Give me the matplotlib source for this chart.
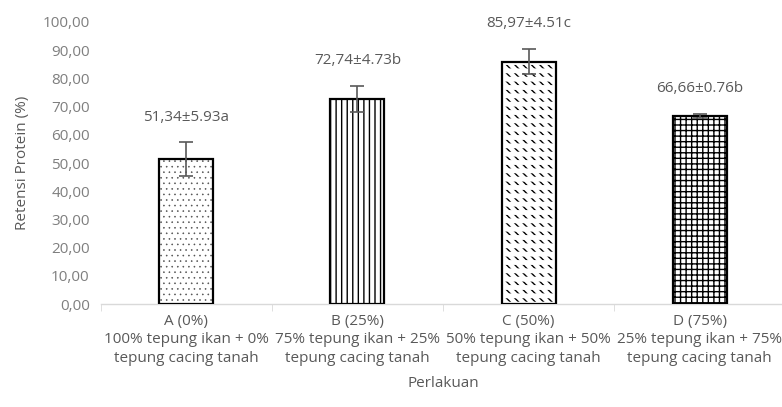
import numpy as np
import matplotlib
matplotlib.use('Agg')
import matplotlib.pyplot as plt

plt.rcParams['font.family'] = ['Open Sans', 'DejaVu Sans']
plt.rcParams['hatch.linewidth'] = 1.0

# data
kode = ['A (0%)', 'B (25%)', 'C (50%)', 'D (75%)']
komposisi = ['100% tepung ikan + 0%\ntepung cacing tanah',
             '75% tepung ikan + 25%\ntepung cacing tanah',
             '50% tepung ikan + 50%\ntepung cacing tanah',
             '25% tepung ikan + 75%\ntepung cacing tanah']
retensi = np.array([51.34, 72.74, 85.97, 66.66])
sd = np.array([5.93, 4.73, 4.51, 0.76])
notasi = ['a', 'b', 'c', 'b']
pola = ['...', '|||', '\\\\\\\\', '+++']
warna_pola = ['#505050', 'black', 'black', 'black']
tebal_pola = [0.4, 1.0, 1.0, 1.0]

abu = '#595959'
fs = 11
fig = plt.figure(figsize=(7.82, 4.07), dpi=100)
ax = fig.add_axes([0.129, 0.253, 0.875, 0.693])

x = np.arange(len(kode))
lebar = 0.316
for i in range(len(kode)):
    b = ax.bar(x[i], retensi[i], lebar, color='white', edgecolor=warna_pola[i],
               hatch=pola[i], linewidth=0, zorder=2)
    for p in b:
        if hasattr(p, 'set_hatch_linewidth'):
            p.set_hatch_linewidth(tebal_pola[i])
    if i == 2:
        # potong garis diagonal jadi putus-putus
        b = ax.bar(x[i], retensi[i], lebar, color='none', edgecolor='white',
                   hatch='--', linewidth=0, zorder=3)
        for p in b:
            if hasattr(p, 'set_hatch_linewidth'):
                p.set_hatch_linewidth(3.5)
    ax.bar(x[i], retensi[i], lebar, color='none', edgecolor='black',
           linewidth=1.6, zorder=4)

ax.errorbar(x, retensi, yerr=sd, fmt='none', ecolor=abu, elinewidth=1.2,
            capsize=5, capthick=1.2, zorder=5)

for i in range(len(kode)):
    teks = '{:.2f}'.format(retensi[i]).replace('.', ',') + '±' + '{:.2f}'.format(sd[i]) + notasi[i]
    ax.annotate(teks, (x[i], retensi[i] + sd[i]), xytext=(0, 18), textcoords='offset points',
                ha='center', va='center', fontsize=fs, color=abu)

ax.set_xlim(-0.5, 3.5)
ax.set_ylim(0, 100)
ax.set_yticks(np.arange(0, 101, 10))
ax.set_yticklabels(['{:.2f}'.format(v).replace('.', ',') for v in np.arange(0, 101, 10)])
ax.set_xticks(x)
ax.set_xticklabels([k + '\n' + c for k, c in zip(kode, komposisi)], linespacing=1.32)
ax.set_xticks(np.arange(-0.5, 3.6, 1), minor=True)
ax.tick_params(axis='x', which='major', length=0, pad=7, labelsize=fs, labelcolor=abu)
ax.tick_params(axis='x', which='minor', length=5, color='#d9d9d9')
ax.tick_params(axis='y', length=0, pad=8, labelsize=fs, labelcolor='#7f7f7f')

for s in ['top', 'right', 'left']:
    ax.spines[s].set_visible(False)
ax.spines['bottom'].set_color('#d9d9d9')
ax.spines['bottom'].set_linewidth(1.0)

ax.set_ylabel('Retensi Protein (%)', fontsize=fs, color=abu, labelpad=9)
ax.set_xlabel('Perlakuan', fontsize=fs, color=abu, labelpad=7)

fig.savefig('out.png', dpi=100)
